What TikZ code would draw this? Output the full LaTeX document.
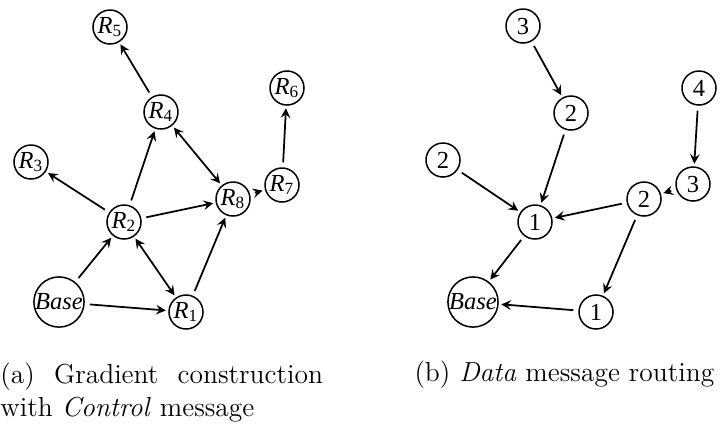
\documentclass[tikz,border=0pt]{standalone}
\usepackage{fontspec}
\newfontfamily\nodefont{Liberation Serif}
\usetikzlibrary{arrows,positioning}

\tikzset{
  router/.style={draw, circle, line width=0.6pt, inner sep=0pt, minimum size=13.6pt, font=\nodefont\fontsize{9.8}{10}\selectfont},
  sink/.style={router, minimum size=20pt},
  link/.style={-stealth, line width=0.7pt, shorten >=1pt, shorten <=2pt},
  duplex/.style={link, stealth-stealth, shorten <=1pt}
}
\newcommand{\rname}[1]{\textit{R}\textsubscript{#1}}

\begin{document}
\begin{tikzpicture}[x=0.4pt, y=-0.4pt]
  \useasboundingbox (0,0) rectangle (725,423);

  % (a) gradient construction
  \node[sink]   (base) at (59,302)  {\textit{Base}};
  \node[router] (r1)   at (186,312) {\rname{1}};
  \node[router] (r2)   at (124,222) {\rname{2}};
  \node[router] (r3)   at (31,162)  {\rname{3}};
  \node[router] (r4)   at (161,112) {\rname{4}};
  \node[router] (r5)   at (110,27)  {\rname{5}};
  \node[router] (r6)   at (287,88)  {\rname{6}};
  \node[router] (r7)   at (282,185) {\rname{7}};
  \node[router] (r8)   at (233,199) {\rname{8}};

  \foreach \a/\b in {base/r2,base/r1,r2/r3,r2/r4,r2/r8,r4/r5,r1/r8,r8/r7,r7/r6}{
    \draw[link] (\a) -- (\b);
  }
  \foreach \a/\b in {r2/r1,r4/r8}{
    \draw[duplex] (\a) -- (\b);
  }

  % (b) data message routing
  \node[sink]   (dbase) at (473,302) {\textit{Base}};
  \node[router] (d1b)   at (596,312) {1};
  \node[router] (d1a)   at (535,222) {1};
  \node[router] (d2b)   at (443,160) {2};
  \node[router] (d2a)   at (571,113) {2};
  \node[router] (d3a)   at (523,26)  {3};
  \node[router] (d4)    at (699,88)  {4};
  \node[router] (d3b)   at (693,184) {3};
  \node[router] (d2c)   at (644,199) {2};

  \foreach \a/\b in {d3a/d2a,d2a/d1a,d2b/d1a,d4/d3b,d3b/d2c,d2c/d1a,d2c/d1b,d1a/dbase,d1b/dbase}{
    \draw[link] (\a) -- (\b);
  }

  % captions
  \node[anchor=north west, inner sep=0pt, text width=129pt, align=justify,
        font=\fontsize{11}{13.2}\selectfont] (capa) at (0,362)
    {(a) Gradient construction with \textit{Control} message};
  \node[anchor=base west, inner sep=0pt, font=\fontsize{11}{13.2}\selectfont] (capb) at (414,381)
    {(b) \textit{Data} message routing};
\end{tikzpicture}
\end{document}
